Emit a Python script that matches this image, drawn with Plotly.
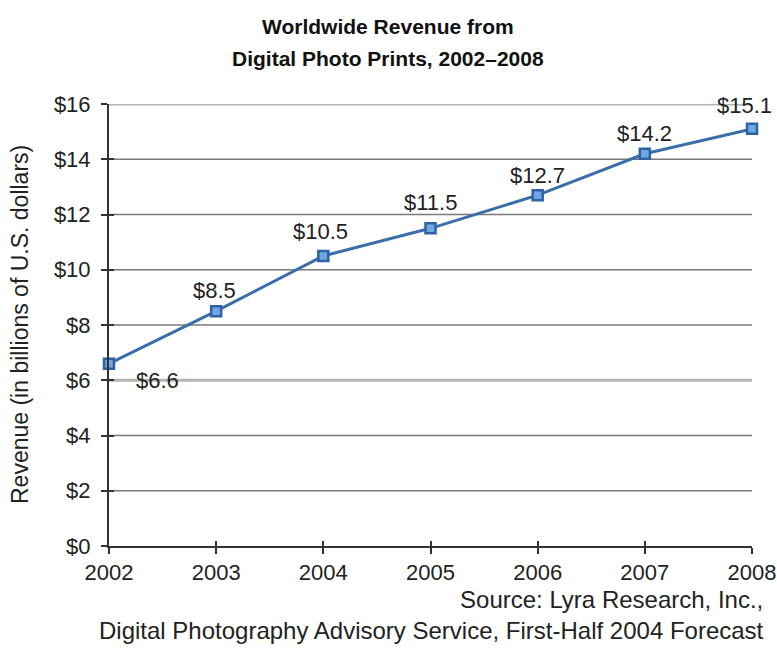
import plotly.graph_objects as go

years = [2002, 2003, 2004, 2005, 2006, 2007, 2008]
revenue = [6.6, 8.5, 10.5, 11.5, 12.7, 14.2, 15.1]
labels = ["$6.6", "$8.5", "$10.5", "$11.5", "$12.7", "$14.2", "$15.1"]
ytick_vals = [0, 2, 4, 6, 8, 10, 12, 14, 16]
ytick_text = ["$0", "$2", "$4", "$6", "$8", "$10", "$12", "$14", "$16"]
title_lines = ["Worldwide Revenue from", "Digital Photo Prints, 2002–2008"]

FONT = "Liberation Sans, Arial, Helvetica, sans-serif"

fig = go.Figure()

# gridlines: the $16 and $6 lines are lighter and thicker in the original
for v in ytick_vals[1:]:
    light = v in (6, 16)
    fig.add_shape(type="line", xref="x domain", yref="y", x0=0, x1=1, y0=v, y1=v,
                  layer="below",
                  line=dict(color="#B4B4B4" if light else "#7A7A7A", width=3 if light else 1.6))

fig.add_trace(go.Scatter(
    x=years, y=revenue, mode="lines+markers",
    line=dict(color="#3A6EA8", width=3),
    marker=dict(symbol="square", size=10, color="#6FA8E0",
                line=dict(color="#2E62A6", width=2.5)),
    showlegend=False, cliponaxis=False,
))

# label offsets (pixels) relative to each point
offsets = [(48, -17), (-2, 21), (-3, 24), (0, 26), (0, 20), (0, 20), (-8, 23)]
for x, y, t, (dx, dy) in zip(years, revenue, labels, offsets):
    fig.add_annotation(x=x, y=y, text=t, showarrow=False, xshift=dx, yshift=dy,
                       font=dict(family=FONT, size=22, color="#222"))

fig.update_layout(
    width=777, height=670,
    margin=dict(l=109, r=25, t=104, b=124, autoexpand=False),
    paper_bgcolor="white", plot_bgcolor="white",
    font=dict(family=FONT, size=22, color="#222"),
    xaxis=dict(range=[2002, 2008], tickvals=years, ticktext=[str(y) for y in years],
               showgrid=False, showline=True, linecolor="#333", linewidth=2,
               ticks="outside", ticklen=6, tickwidth=2, tickcolor="#333",
               tickfont=dict(size=22, color="#222"), zeroline=False, automargin=False),
    yaxis=dict(range=[0, 16], tickvals=ytick_vals, ticktext=ytick_text,
               showgrid=False,
               showline=True, linecolor="#333", linewidth=2,
               ticks="outside", ticklen=6, tickwidth=2, tickcolor="#333",
               ticklabelstandoff=6, automargin=False,
               tickfont=dict(size=22, color="#222"), zeroline=False),
    xaxis2=dict(range=[2002, 2008], tickvals=years, overlaying="x", matches="x",
                showticklabels=False, showgrid=False, ticks="inside", ticklen=5,
                tickwidth=2, tickcolor="#333", side="bottom"),
    yaxis2=dict(range=[0, 16], tickvals=ytick_vals, overlaying="y",
                showticklabels=False, showgrid=False, ticks="inside", ticklen=5,
                tickwidth=2, tickcolor="#333", side="left"),
)
# invisible trace to activate inner tick axes
fig.add_trace(go.Scatter(x=[years[0]], y=[revenue[0]], xaxis="x2", yaxis="y2",
                         mode="markers", marker=dict(opacity=0), showlegend=False,
                         hoverinfo="skip"))

# title (two lines)
for line, ypix in zip(title_lines, [27, 59]):
    fig.add_annotation(text="<b>" + line + "</b>",
                       xref="paper", yref="paper", x=(388 - 109) / 643, y=(546 - ypix) / 442,
                       xanchor="center", yanchor="middle", showarrow=False,
                       font=dict(family=FONT, size=21, color="#111"))

# y-axis title
fig.add_annotation(text="Revenue (in billions of U.S. dollars)",
                   xref="paper", yref="paper", x=(20 - 109) / 643, y=0.5,
                   xanchor="center", yanchor="middle", textangle=-90, showarrow=False,
                   font=dict(family=FONT, size=23, color="#222"))

# source
fig.add_annotation(text="Source: Lyra Research, Inc.,<br>Digital Photography Advisory Service, First-Half 2004 Forecast",
                   xref="paper", yref="paper", x=(766 - 109) / 643, y=(546 - 615) / 442,
                   xanchor="right", yanchor="middle",
                   align="right", showarrow=False,
                   font=dict(family=FONT, size=24, color="#222"))

fig.write_html("out.html")
